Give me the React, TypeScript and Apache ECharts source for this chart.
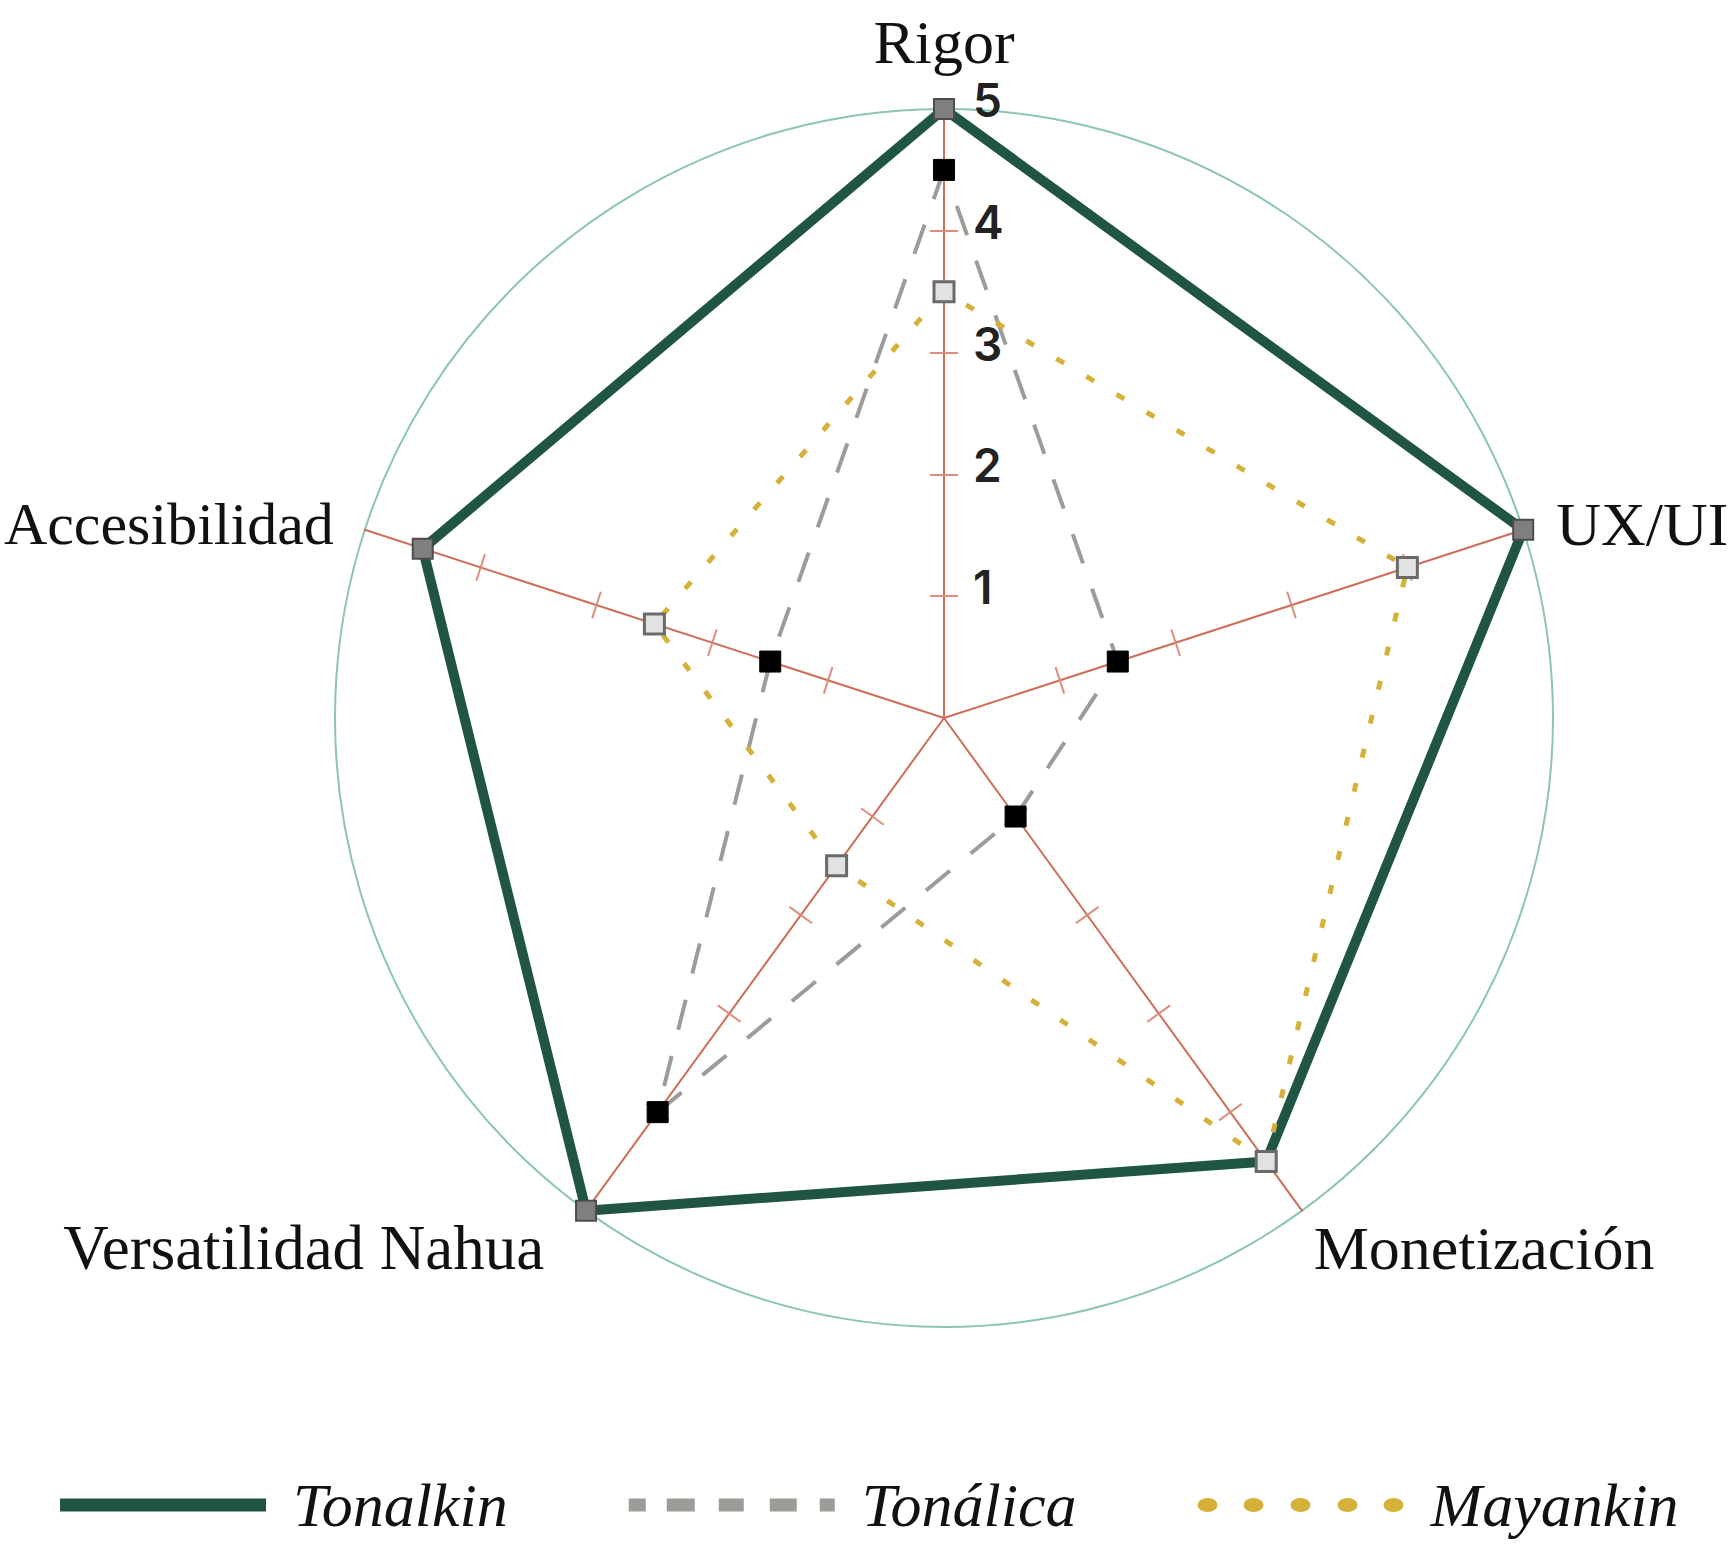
import React, { useEffect, useRef } from "react";
import * as echarts from "echarts";

// ---- data ----
const indicatorNames = ["Rigor", "Accesibilidad", "Versatilidad Nahua", "Monetización", "UX/UI"];
const maxValue = 5;
const seriesNames = ["Tonalkin", "Tonálica", "Mayankin"];
const tonalkinValues = [5, 4.5, 5, 4.5, 5];
const tonalicaValues = [4.5, 1.5, 4, 1, 1.5];
const mayankinValues = [3.5, 2.5, 1.5, 4.5, 4];
const tickValues = [1, 2, 3, 4];
const labelValues = [1, 2, 3, 4, 5];

const W = 1736;
const H = 1552;

const nameKey: Record<string, string> = {
  Rigor: "r",
  Accesibilidad: "a",
  "Versatilidad Nahua": "v",
  "Monetización": "m",
  "UX/UI": "u",
};

const serifFont = "'Liberation Serif', 'DejaVu Serif', serif";
const labelFont = "Inter, 'Noto Sans', sans-serif";

function nameRich(padding: number[], fontSize = 62) {
  return { fontFamily: serifFont, fontSize, color: "#111111", padding };
}

const dashIcon =
  "path://M0,0H17V13H0Z M38,0H66V13H38Z M90,0H115V13H90Z M141,0H168V13H141Z M191,0H206V13H191Z";
const solidIcon = "path://M0,0H206V13H0Z";
function ellipse(cx: number) {
  return `M${cx - 10},7A10,7 0 1,0 ${cx + 10},7A10,7 0 1,0 ${cx - 10},7Z`;
}
const dotIcon = "path://" + [10, 56, 103, 150, 196].map(ellipse).join(" ");

const CENTER = [944, 718];
const RADIUS = 609;

function baseIndicators(extra?: (n: string) => any) {
  return indicatorNames.map((n) => ({ name: n, min: 0, max: maxValue, ...(extra ? extra(n) : {}) }));
}

export default function App() {
  const ref = useRef<HTMLDivElement>(null);
  useEffect(() => {
    document.body.style.margin = "0";
    const chart = echarts.init(ref.current!, null, { renderer: "svg" });
    const tickRadar = (len: number) => ({
      center: CENTER,
      radius: RADIUS,
      shape: "circle",
      startAngle: 90,
      splitNumber: 5,
      indicator: baseIndicators(),
      axisName: { show: false },
      splitLine: { show: false },
      splitArea: { show: false },
      axisLine: { show: false },
      axisLabel: { show: false },
      axisTick: {
        show: true,
        length: len,
        customValues: tickValues,
        lineStyle: { color: "#dd8f7e", width: 2 },
      },
    });
    const option: any = {
      animation: false,
      backgroundColor: "#ffffff",
      radar: [
        {
          center: CENTER,
          radius: RADIUS,
          shape: "circle",
          startAngle: 90,
          splitNumber: 5,
          nameGap: 20,
          indicator: baseIndicators((n) =>
            n === "Rigor"
              ? {
                  axisLabel: {
                    show: true,
                    customValues: labelValues,
                    margin: -29,
                    align: "left",
                    fontFamily: labelFont,
                    fontWeight: 600,
                    fontSize: 46,
                    color: "#222222",
                    formatter: (v: number) => `{n|${v}}`,
                    rich: {
                      n: {
                        fontFamily: labelFont,
                        fontWeight: 600,
                        fontSize: 46,
                        color: "#222222",
                        padding: [0, 0, 18, 0],
                      },
                    },
                  },
                }
              : {}
          ),
          axisName: {
            show: true,
            fontFamily: serifFont,
            fontSize: 62,
            color: "#111111",
            formatter: (name: string) => `{${nameKey[name]}|${name}}`,
            rich: {
              r: nameRich([0, 0, 16, 0]),
              u: nameRich([0, 0, 0, 14]),
              a: nameRich([0, 12, 0, 0], 60),
              v: nameRich([42, 30, 0, 0], 63),
              m: nameRich([42, 0, 0, 0]),
            },
          },
          splitLine: {
            show: true,
            lineStyle: {
              color: ["transparent", "transparent", "transparent", "transparent", "transparent", "#8cc5b0"],
              width: 2,
            },
          },
          splitArea: { show: false },
          axisLine: { show: true, lineStyle: { color: "#cd6e5a", width: 2 } },
          axisTick: { show: false },
          axisLabel: { show: false },
        },
        tickRadar(14),
        tickRadar(-14),
      ],
      legend: {
        left: 55,
        top: 1469,
        itemWidth: 206,
        itemHeight: 14,
        itemGap: 121,
        selectedMode: false,
        textStyle: {
          fontFamily: serifFont,
          fontStyle: "italic",
          fontSize: 62,
          color: "#111111",
          padding: [0, 0, 0, 22],
        },
        data: [
          { name: seriesNames[0], icon: solidIcon, itemStyle: { color: "#205444", borderWidth: 0 } },
          { name: seriesNames[1], icon: dashIcon, itemStyle: { color: "#9d9c98", borderWidth: 0 } },
          { name: seriesNames[2], icon: dotIcon, itemStyle: { color: "#d6b13a", borderWidth: 0 } },
        ],
      },
      series: [
        {
          type: "radar",
          radarIndex: 0,
          silent: true,
          symbol: "rect",
          symbolSize: 20,
          data: [
            {
              name: seriesNames[0],
              value: tonalkinValues,
              lineStyle: { color: "#205444", width: 10 },
              itemStyle: { color: "#7f7f7f", borderColor: "#4d4d4d", borderWidth: 2 },
            },
          ],
        },
        {
          type: "radar",
          radarIndex: 0,
          silent: true,
          symbol: "rect",
          symbolSize: 21,
          data: [
            {
              name: seriesNames[1],
              value: tonalicaValues,
              lineStyle: { color: "#9d9c98", width: 4, type: [31, 27] },
              itemStyle: { color: "#000000", borderColor: "#000000", borderWidth: 1 },
            },
          ],
        },
        {
          type: "radar",
          radarIndex: 0,
          silent: true,
          symbol: "rect",
          symbolSize: 20,
          data: [
            {
              name: seriesNames[2],
              value: mayankinValues,
              lineStyle: { color: "#d6b13a", width: 5, type: [9, 26] },
              itemStyle: { color: "#e2e2e2", borderColor: "#6a6a6a", borderWidth: 3 },
            },
          ],
        },
      ],
    };
    chart.setOption(option);
    return () => chart.dispose();
  }, []);
  return <div ref={ref} style={{ width: W, height: H, background: "#fff" }} />;
}
